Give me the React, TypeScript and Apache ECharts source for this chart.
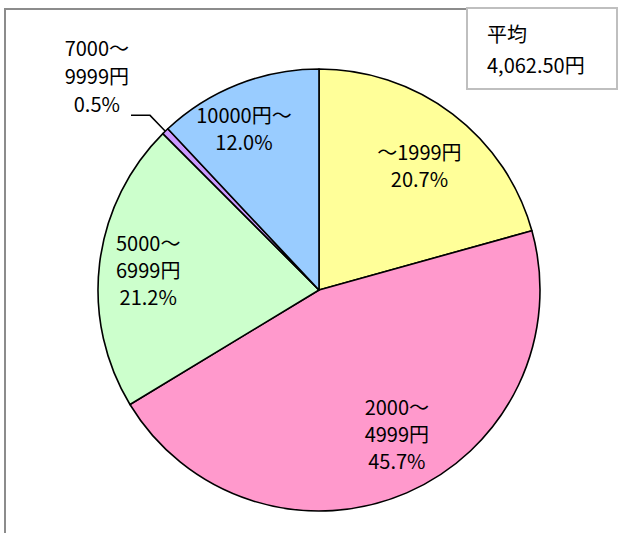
import React, { useEffect, useRef } from "react";
import * as echarts from "echarts";

const categories = ["～1999円", "2000～\n4999円", "5000～\n6999円", "7000～\n9999円", "10000円～"];
const shares = [20.7, 45.7, 21.2, 0.5, 12.0];
const colors = ["#FFFF99", "#FF99CC", "#CCFFCC", "#CC99FF", "#99CCFF"];
const averageTitle = "平均";
const averageValue = 4062.5;
const outsideIndex = 3;

const FONT = "'Noto Sans CJK JP', 'Liberation Sans', sans-serif";
const FS = 20;

export default function App() {
  const ref = useRef<HTMLDivElement>(null);
  useEffect(() => {
    document.body.style.margin = "0";
    const chart = echarts.init(ref.current!, undefined, { renderer: "svg" });
    const avgText =
      averageValue.toLocaleString("en-US", { minimumFractionDigits: 2, maximumFractionDigits: 2 }) + "円";
    const fmt = (p: any) => `${p.name}\n${Number(p.value).toFixed(1)}%`;
    const nudges: Record<number, { dx: number; dy: number }> = {
      0: { dx: 0, dy: 7 },
      1: { dx: 12, dy: -9 },
      2: { dx: -6, dy: 0 },
      4: { dx: -14, dy: -8 },
    };
    const mainData = categories.map((name, i) => ({
      name,
      value: shares[i],
      itemStyle: { color: colors[i] },
      label:
        i === outsideIndex
          ? {
              show: true,
              position: "outside",
              formatter: (p: any) =>
                p.name
                  .split("\n")
                  .concat([`${Number(p.value).toFixed(1)}%`])
                  .map((s: string) => `{c|${s}}`)
                  .join("\n"),
              rich: { c: { align: "center", fontSize: FS, lineHeight: 28, fontFamily: FONT, color: "#000" } },
              padding: [0, 0, 80, 0],
              distanceToLabelLine: 2,
            }
          : { show: false },
      labelLine: i === outsideIndex ? { show: true, length: 22, length2: 19 } : { show: false },
    }));
    const ghostData = categories.map((name, i) => ({
      name,
      value: shares[i],
      label: { show: i !== outsideIndex },
    }));
    chart.setOption({
      animation: false,
      graphic: [
        {
          type: "rect",
          shape: { x: 5, y: 9, width: 700, height: 600 },
          style: { fill: "none", stroke: "#8c8c8c", lineWidth: 2 },
          z: 0,
        },
        {
          type: "rect",
          shape: { x: 467, y: 8, width: 150, height: 81 },
          style: { fill: "#fff", stroke: "#bfbfbf", lineWidth: 2 },
          z: 10,
        },
        {
          type: "text",
          x: 487,
          y: 18,
          style: {
            text: averageTitle + "\n" + avgText,
            fontSize: FS,
            fontFamily: FONT,
            lineHeight: 31,
            fill: "#000",
            verticalAlign: "top",
          },
          z: 11,
        },
      ],
      series: [
        {
          type: "pie",
          center: [319, 290],
          radius: [0, 221],
          startAngle: 90,
          clockwise: true,
          avoidLabelOverlap: false,
          silent: true,
          emphasis: { disabled: true },
          itemStyle: { borderColor: "#000", borderWidth: 1.6 },
          labelLine: { lineStyle: { color: "#000", width: 1.5 }, smooth: false },
          label: { fontSize: FS, fontFamily: FONT, color: "#000" },
          data: mainData,
          z: 2,
        },
        {
          type: "pie",
          center: [319, 290],
          radius: [0, 326],
          startAngle: 90,
          clockwise: true,
          avoidLabelOverlap: false,
          silent: true,
          emphasis: { disabled: true },
          itemStyle: { color: "rgba(0,0,0,0)", borderWidth: 0 },
          label: {
            position: "inside",
            formatter: fmt,
            fontSize: FS,
            lineHeight: 27,
            fontFamily: FONT,
            color: "#000",
            align: "center",
          },
          labelLayout: (params: any) => nudges[params.dataIndex] || {},
          labelLine: { show: false },
          data: ghostData,
          z: 3,
        },
      ],
    });
    return () => chart.dispose();
  }, []);
  return <div ref={ref} style={{ position: "absolute", left: 0, top: 0, width: 618, height: 533 }} />;
}
